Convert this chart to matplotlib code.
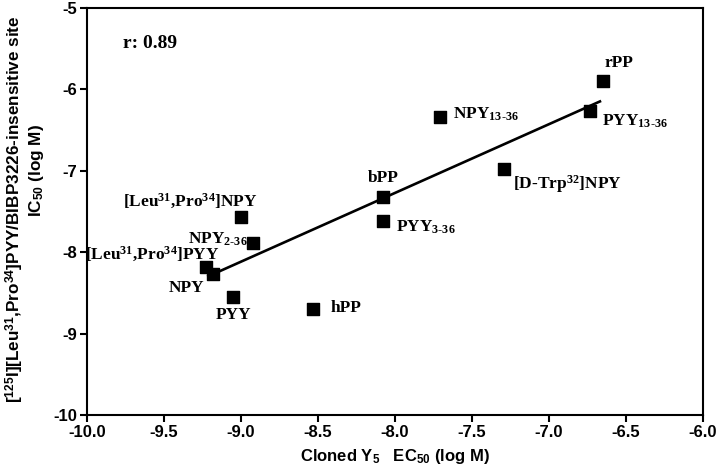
#------------------------------Librerias---------------------------------------
import numpy as np
import matplotlib
matplotlib.use('Agg')
import matplotlib.pyplot as plt
#------------------------------------------------------------------------------

#-------------------------------Datos------------------------------------------
nombres = ['rPP', 'PYY$_{13\\text{-}36}$', 'NPY$_{13\\text{-}36}$', '[D-Trp$^{32}$]NPY',
           'bPP', 'PYY$_{3\\text{-}36}$', '[Leu$^{31}$,Pro$^{34}$]NPY', 'NPY$_{2\\text{-}36}$',
           '[Leu$^{31}$,Pro$^{34}$]PYY', 'NPY', 'PYY', 'hPP']
ec50 = [-6.65, -6.73, -7.71, -7.29, -8.08, -8.08, -9.00, -8.92, -9.23, -9.18, -9.05, -8.53]
ic50 = [-5.90, -6.27, -6.34, -6.98, -7.32, -7.62, -7.56, -7.89, -8.18, -8.27, -8.55, -8.70]
recta_x = [-9.22, -6.66]
recta_y = [-8.30, -6.14]
#------------------------------------------------------------------------------

# posicion de cada etiqueta (offset en puntos, alineacion)
offsets = [(1.4, 10), (8.6, -10), (9.4, -0.7), (6.5, -13.7), (0.7, 10.8), (9.4, -7.2),
           (12.2, 7.2), (-4.3, 0), (10, 5), (-6.5, -13), (0, -15.8), (12.2, -2.2)]
alineacion = ['left', 'left', 'left', 'left', 'center', 'left',
              'right', 'right', 'right', 'right', 'center', 'left']

plt.rcParams['mathtext.fontset'] = 'custom'
plt.rcParams['mathtext.rm'] = 'Liberation Serif:bold'
plt.rcParams['mathtext.it'] = 'Liberation Serif:bold'
plt.rcParams['mathtext.bf'] = 'Liberation Serif:bold'
plt.rcParams['mathtext.sf'] = 'Liberation Sans:bold'
plt.rcParams['mathtext.default'] = 'rm'

#------------------------------Grafica-----------------------------------------
fig = plt.figure(figsize=(7.2, 4.74), dpi=100)
ax = fig.add_axes([0.121, 0.124, 0.855, 0.859])

ax.plot(recta_x, recta_y, c='black', lw=1.9, solid_capstyle='butt')
ax.scatter(ec50, ic50, marker='s', s=64, c='black', zorder=3)

for nom, x, y, off, ha in zip(nombres, ec50, ic50, offsets, alineacion):
    ax.annotate(nom, (x, y), xytext=off, textcoords='offset points', ha=ha, va='baseline',
                fontsize=12.5, family='Liberation Serif', fontweight='bold')

ax.text(0.058, 0.902, 'r: 0.89', transform=ax.transAxes, fontsize=14,
        family='Liberation Serif', fontweight='bold')

ax.set_xlim(-10, -6)
ax.set_ylim(-10, -5)
ax.set_xticks(np.arange(-10, -5.9, 0.5))
ax.set_xticklabels(['%.1f' % v for v in np.arange(-10, -5.9, 0.5)])
ax.set_yticks(np.arange(-10, -4.9, 1))
ax.set_yticklabels(['%d' % v for v in np.arange(-10, -4.9, 1)])
for lab in ax.get_xticklabels() + ax.get_yticklabels():
    lab.set_family('Liberation Sans')
    lab.set_fontweight('bold')
    lab.set_fontsize(12)
ax.tick_params(direction='out', length=5, width=1.5, color='black', pad=2)
for s in ax.spines.values():
    s.set_linewidth(1.5)

ax.set_xlabel('Cloned Y$_{\\mathsf{5}}$   EC$_{\\mathsf{50}}$ (log M)', family='Liberation Sans',
              fontweight='bold', fontsize=12, labelpad=5)
fig.text(15 / 720, 1 - 209 / 474,
         '[$^{\\mathsf{125}}$I][Leu$^{\\mathsf{31}}$,Pro$^{\\mathsf{34}}$]PYY/BIBP3226-insensitive site',
         rotation=90, ha='center', va='center', family='Liberation Sans', fontweight='bold', fontsize=12.3)
fig.text(37 / 720, 1 - 170 / 474, 'IC$_{\\mathsf{50}}$ (log M)', rotation=90, ha='center', va='center',
         family='Liberation Sans', fontweight='bold', fontsize=12.3)

plt.savefig('out.png', dpi=100)
#------------------------------------------------------------------------------
